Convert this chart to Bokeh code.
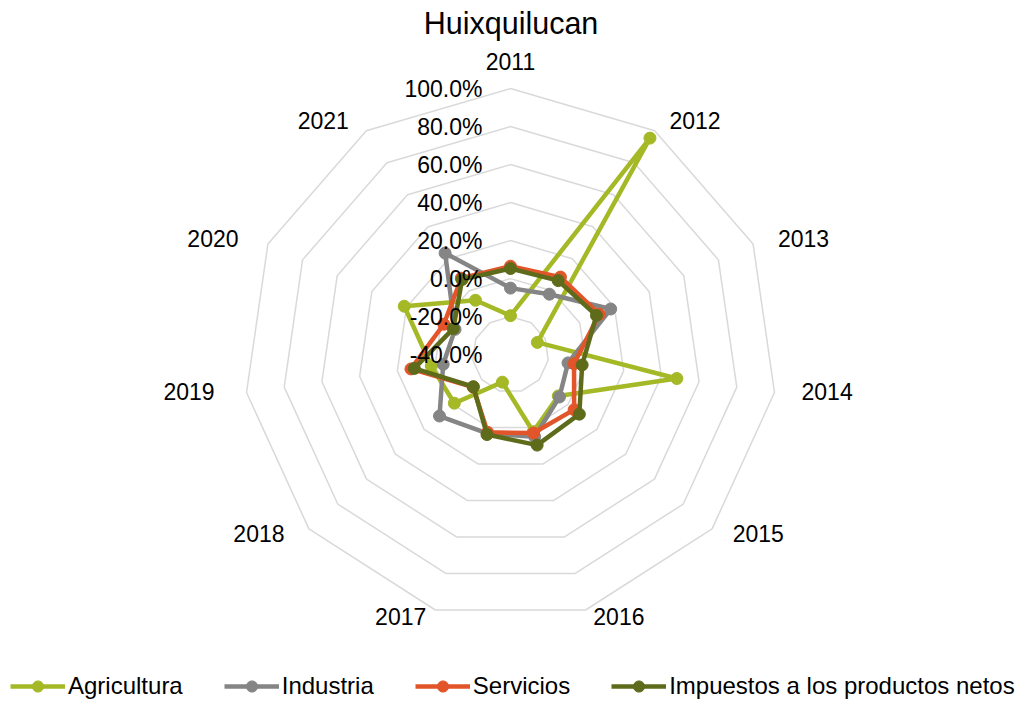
import numpy as np
from bokeh.plotting import figure
from bokeh.models import Range1d, Legend, LegendItem
from bokeh.embed import file_html
from bokeh.resources import INLINE
from bokeh.core.properties import value

# ---------------- data ----------------
years = ["2011", "2012", "2013", "2014", "2015", "2016", "2017", "2018", "2019", "2020", "2021"]
tick_values = [-40, -20, 0, 20, 40, 60, 80, 100]
tick_labels = ["-40.0%", "-20.0%", "0.0%", "20.0%", "40.0%", "60.0%", "80.0%", "100.0%"]

agricultura = [-19.5, 95.4, -24.5, 48.2, -6.8, 2.3, -24.9, -1.0, 2.0, 21.3, -6.0]
industria = [-5.0, -2.2, 17.8, -9.5, -6.0, 5.0, 3.2, 9.3, -4.3, -8.0, 23.5]
servicios = [6.5, 8.5, 11.2, -6.3, 4.2, 3.0, 2.6, -14.0, 12.8, -1.5, 7.8]
impuestos = [5.3, 6.3, 9.6, -2.0, 7.8, 9.6, 3.8, -14.2, 11.0, -7.0, 7.0]

series_names = ["Agricultura", "Industria", "Servicios", "Impuestos a los productos netos"]
series_colors = ["#a5b927", "#858585", "#e2552a", "#5e6b1b"]

# ---------------- geometry ----------------
vmin, vmax = tick_values[0], tick_values[-1]
n = len(years)
ang = np.arange(n) * 2 * np.pi / n

W, H = 1021, 702
T = 44.6                    # estimated title panel height
S = 266.7                   # pixels per unit radius
CX, CY = 510.0, 353.4       # centre in figure pixels

def rad(v):
    return (np.asarray(v, dtype=float) - vmin) / (vmax - vmin)

def xy(vals, close=True):
    r = rad(vals)
    x = r * np.sin(ang)
    y = r * np.cos(ang)
    if close:
        x = np.append(x, x[0])
        y = np.append(y, y[0])
    return x, y

p = figure(width=W, height=H, output_backend="svg", toolbar_location=None,
           x_range=Range1d(-CX / S, (W - CX) / S),
           y_range=Range1d(-(H - CY) / S, (CY - T) / S),
           min_border=0, x_axis_type=None, y_axis_type=None)
p.grid.visible = False
p.outline_line_color = None
p.background_fill_color = "white"
p.border_fill_color = "white"

p.title.text = "Huixquilucan"
p.title.align = "center"
p.title.vertical_align = "top"
p.title.text_font = "Liberation Sans"
p.title.text_font_size = "30.5px"
p.title.text_font_style = "normal"
p.title.text_color = "#000000"
p.title.standoff = 10

# rings
for t in tick_values[1:]:
    rx, ry = xy([t] * n)
    p.line(rx, ry, line_color="#d9d9d9", line_width=1.5)

# series
legend_items = []
for name, vals, col in zip(series_names, [agricultura, industria, servicios, impuestos], series_colors):
    sx, sy = xy(vals)
    lr = p.line(sx, sy, line_color=col, line_width=4.5, line_join="round")
    mx, my = xy(vals, close=False)
    sr = p.scatter(mx, my, marker="circle", size=12, fill_color=col, line_color=col)
    legend_items.append(LegendItem(label=name, renderers=[lr, sr]))

# radial tick labels
tr = rad(tick_values)
p.text(x=[-28 / S] * len(tick_values), y=list(tr), text=tick_labels,
       text_align="right", text_baseline="middle",
       text_font=value("Liberation Sans"), text_font_size="23px", text_color="#000000")

# category labels
RX_RIGHT, RX_LEFT, RY, RTOP, DY = 294 / S, 299 / S, 276 / S, 294 / S, 2 / S
groups = {"left": [], "right": [], "center": []}
for i in range(n):
    s = np.sin(ang[i])
    if s > 0.05:
        groups["left"].append(i)
    elif s < -0.05:
        groups["right"].append(i)
    else:
        groups["center"].append(i)
for align, idx in groups.items():
    if not idx:
        continue
    rx = RX_LEFT if align == "right" else RX_RIGHT
    if align == "center":
        ys = [RTOP * np.cos(ang[i]) for i in idx]
    else:
        ys = [RY * np.cos(ang[i]) + DY for i in idx]
    p.text(x=[rx * np.sin(ang[i]) for i in idx], y=ys,
           text=[years[i] for i in idx],
           text_align=align, text_baseline="middle",
           text_font=value("Liberation Sans"), text_font_size="23px", text_color="#000000")

legend = Legend(items=legend_items, orientation="horizontal", location=(10, 2),
                glyph_width=55, glyph_height=28, label_standoff=3, spacing=41,
                padding=0, margin=0, border_line_color=None, background_fill_alpha=0,
                label_text_font="Liberation Sans", label_text_font_size="24px",
                label_text_color="#000000", label_height=28)
p.add_layout(legend)

open("out.html", "w").write(file_html(p, INLINE))
